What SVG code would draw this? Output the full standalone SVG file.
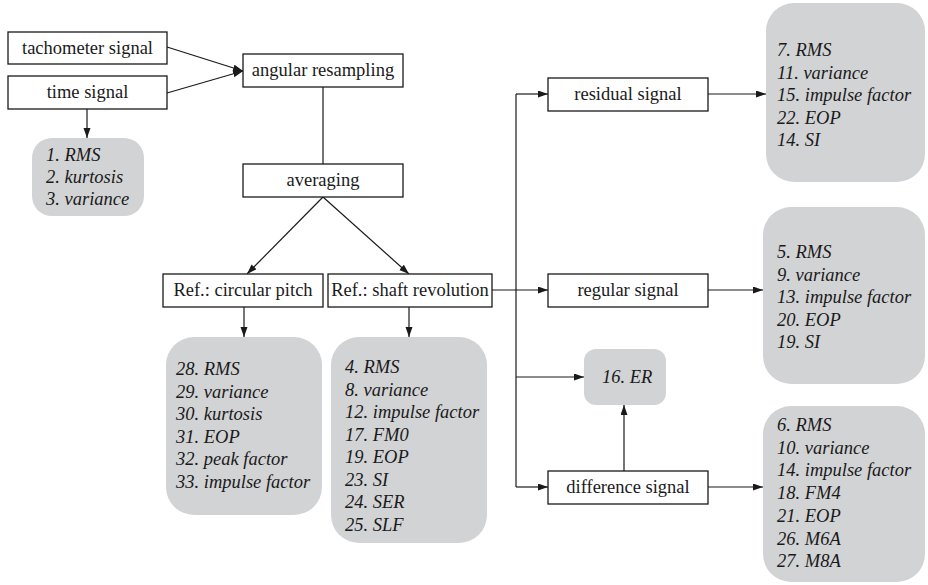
<svg xmlns="http://www.w3.org/2000/svg" width="928" height="585" viewBox="0 0 928 585">
<defs>
<marker id="ah" markerUnits="userSpaceOnUse" markerWidth="10" markerHeight="8" refX="10" refY="3.5" orient="auto">
<path d="M0,0 L10,3.5 L0,7 z" fill="#1a1a1a"/>
</marker>
<style>
.box{fill:#fff;stroke:#1a1a1a;stroke-width:1.3}
.gray{fill:#d2d3d5;stroke:none}
text{font-family:'Liberation Serif',Tinos,'Times New Roman',Times,'Nimbus Roman','Nimbus Roman No9 L','DejaVu Serif','Noto Serif',FreeSerif,Georgia,serif;font-size:18.5px;fill:#1a1a1a}
.lbl{text-anchor:middle}
.it{font-style:italic}
.c{fill:none;stroke:#1a1a1a;stroke-width:1.2}
.a{marker-end:url(#ah)}
</style>
</defs>
<g id="connectors">
<line class="c a" x1="167" y1="47" x2="243" y2="71"/>
<line class="c a" x1="167" y1="93" x2="243" y2="71"/>
<line class="c a" x1="87" y1="109" x2="87" y2="138"/>
<line class="c" x1="323" y1="87" x2="323" y2="164"/>
<line class="c a" x1="323" y1="197" x2="247" y2="274"/>
<line class="c a" x1="323" y1="197" x2="409" y2="274"/>
<line class="c a" x1="244" y1="307" x2="244" y2="337"/>
<line class="c a" x1="409" y1="307" x2="409" y2="337"/>
<line class="c a" x1="492" y1="290" x2="548" y2="290"/>
<line class="c" x1="516" y1="94" x2="516" y2="487"/>
<line class="c a" x1="516" y1="94" x2="548" y2="94"/>
<line class="c a" x1="516" y1="377" x2="584" y2="377"/>
<line class="c a" x1="516" y1="487" x2="548" y2="487"/>
<line class="c a" x1="708" y1="94" x2="766" y2="94"/>
<line class="c a" x1="708" y1="290" x2="763" y2="290"/>
<line class="c a" x1="708" y1="487" x2="763" y2="487"/>
<line class="c a" x1="624" y1="471" x2="624" y2="405"/>
</g>
<g id="tachometer"><rect class="box" x="8" y="32" width="159" height="32"/><text class="lbl" x="87.5" y="54">tachometer signal</text></g>
<g id="time"><rect class="box" x="8" y="76" width="159" height="33"/><text class="lbl" x="87.5" y="98">time signal</text></g>
<g id="angular"><rect class="box" x="243" y="54" width="160" height="33"/><text class="lbl" x="323" y="76">angular resampling</text></g>
<g id="averaging"><rect class="box" x="243" y="164" width="160" height="33"/><text class="lbl" x="323" y="186">averaging</text></g>
<g id="circular"><rect class="box" x="163" y="274" width="160" height="33"/><text class="lbl" x="243" y="296">Ref.: circular pitch</text></g>
<g id="shaft"><rect class="box" x="328" y="274" width="164" height="33"/><text class="lbl" x="410" y="296">Ref.: shaft revolution</text></g>
<g id="residual"><rect class="box" x="548" y="78" width="160" height="33"/><text class="lbl" x="628" y="100">residual signal</text></g>
<g id="regular"><rect class="box" x="548" y="274" width="160" height="33"/><text class="lbl" x="628" y="296">regular signal</text></g>
<g id="difference"><rect class="box" x="548" y="471" width="160" height="33"/><text class="lbl" x="628" y="493">difference signal</text></g>
<g id="feat-time"><rect class="gray" x="32" y="138" width="112" height="78" rx="20"/>
<text class="it" x="46" y="161">1. RMS</text><text class="it" x="46" y="183">2. kurtosis</text><text class="it" x="46" y="205">3. variance</text></g>
<g id="feat-circular"><rect class="gray" x="166" y="337" width="156" height="178" rx="28"/>
<text class="it" x="176" y="375">28. RMS</text><text class="it" x="176" y="397.5">29. variance</text><text class="it" x="176" y="420">30. kurtosis</text><text class="it" x="176" y="442.5">31. EOP</text><text class="it" x="176" y="465">32. peak factor</text><text class="it" x="176" y="487.5">33. impulse factor</text></g>
<g id="feat-shaft"><rect class="gray" x="331" y="337" width="156" height="206" rx="28"/>
<text class="it" x="345" y="373">4. RMS</text><text class="it" x="345" y="395.5">8. variance</text><text class="it" x="345" y="418">12. impulse factor</text><text class="it" x="345" y="440.5">17. FM0</text><text class="it" x="345" y="463">19. EOP</text><text class="it" x="345" y="485.5">23. SI</text><text class="it" x="345" y="508">24. SER</text><text class="it" x="345" y="530.5">25. SLF</text></g>
<g id="feat-residual"><rect class="gray" x="766" y="3" width="159" height="179" rx="28"/>
<text class="it" x="777" y="56">7. RMS</text><text class="it" x="777" y="78.5">11. variance</text><text class="it" x="777" y="101">15. impulse factor</text><text class="it" x="777" y="123.5">22. EOP</text><text class="it" x="777" y="146">14. SI</text></g>
<g id="feat-regular"><rect class="gray" x="763" y="207" width="162" height="177" rx="28"/>
<text class="it" x="777" y="258">5. RMS</text><text class="it" x="777" y="280.5">9. variance</text><text class="it" x="777" y="303">13. impulse factor</text><text class="it" x="777" y="325.5">20. EOP</text><text class="it" x="777" y="348">19. SI</text></g>
<g id="feat-er"><rect class="gray" x="584" y="349" width="82" height="56" rx="12"/>
<text class="it" x="602" y="383">16. ER</text></g>
<g id="feat-difference"><rect class="gray" x="763" y="406" width="162" height="176" rx="28"/>
<text class="it" x="777" y="431">6. RMS</text><text class="it" x="777" y="453.7">10. variance</text><text class="it" x="777" y="476.4">14. impulse factor</text><text class="it" x="777" y="499.1">18. FM4</text><text class="it" x="777" y="521.8">21. EOP</text><text class="it" x="777" y="544.5">26. M6A</text><text class="it" x="777" y="567.2">27. M8A</text></g>
</svg>
